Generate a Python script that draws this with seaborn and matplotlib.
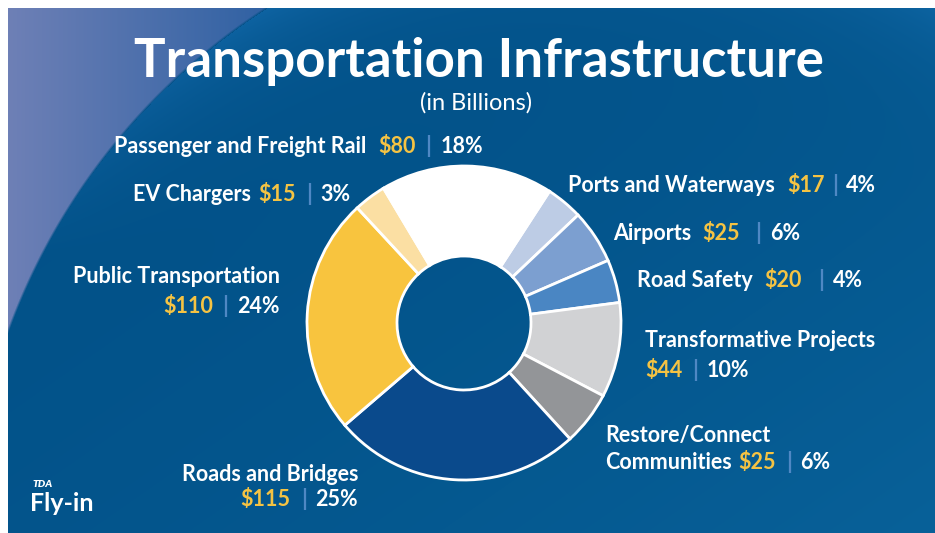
import numpy as np
import matplotlib
matplotlib.use("Agg")
import matplotlib.pyplot as plt
import seaborn as sns

# ---------------- data ----------------
categories = ["Ports and Waterways", "Airports", "Road Safety",
              "Transformative Projects", "Restore/Connect Communities",
              "Roads and Bridges", "Public Transportation", "EV Chargers",
              "Passenger and Freight Rail"]
amounts = [17, 25, 20, 44, 25, 115, 110, 15, 80]
amount_labels = ["$17", "$25", "$20", "$44", "$25", "$115", "$110", "$15", "$80"]
percent_labels = ["4%", "6%", "4%", "10%", "6%", "25%", "24%", "3%", "18%"]
slice_colors = ["#BDCCE5", "#7C9FD0", "#4A86C3", "#D1D2D4", "#939598",
                "#0A4A8C", "#F8C43E", "#FBDFA3", "#FFFFFF"]

title = "Transportation Infrastructure"
subtitle = "(in Billions)"

W, H = 935, 533
sns.set_theme(style="white")
plt.rcParams["font.family"] = ["Lato", "DejaVu Sans"]

fig = plt.figure(figsize=(W / 100, H / 100), dpi=100)

# ---------------- background (slide) ----------------
bg = fig.add_axes([0, 0, 1, 1])
bg.set_axis_off()
yy, xx = np.mgrid[0:H, 0:W].astype(float)
base0 = np.array([2, 81, 136], float)
base1 = np.array([8, 97, 153], float)
t = np.clip(xx / W * 0.55 + yy / H * 0.45, 0, 1) ** 2
img = base0 + (base1 - base0) * t[..., None]
d = np.sqrt((xx - 615) ** 2 + (yy - 551) ** 2)
R = 645
glow = np.exp(-np.clip(R - d, 0, None) / 55.0) * np.clip(1 - yy / 260, 0, 1) * (d < R)
img = img + glow[..., None] * np.array([12, 18, 26], float)
s = np.clip((xx - 8) / 270, 0, 1)
left_c = np.array([110, 128, 182], float)
right_c = np.array([45, 96, 162], float)
outer = left_c + (right_c - left_c) * s[..., None]
a = np.clip((d - R) / 2.5, 0, 1)[..., None]
img = img * (1 - a) + outer * a
img[:8, :] = 255
img[:, :8] = 255
bg.imshow(np.clip(img, 0, 255).astype(np.uint8), extent=(0, W, H, 0),
          aspect="auto", interpolation="bilinear")
bg.set_xlim(0, W)
bg.set_ylim(H, 0)

# ---------------- donut ----------------
cx, cy, r_out, r_in = 464, 323, 157, 67
half = 160
pax = fig.add_axes([(cx - half) / W, (H - cy - half) / H, 2 * half / W, 2 * half / H])
pax.pie(amounts, colors=slice_colors, startangle=57, counterclock=False, radius=1,
        wedgeprops=dict(width=1 - r_in / r_out, edgecolor="white", linewidth=2.0))
lim = half / r_out
pax.set_xlim(-lim, lim)
pax.set_ylim(-lim, lim)
pax.set_axis_off()

# ---------------- texts ----------------
renderer = fig.canvas.get_renderer()
WHITE = "#FFFFFF"
GOLD = "#F5C343"
SEP = "#4F88C4"
FS = 15.5


def px(x, y):
    return x / W, 1 - y / H


def run(x, y, parts, align="left"):
    objs, widths, total = [], [], 0.0
    for s_, c_, gap, kw in parts:
        tt = fig.text(0, 0, s_, color=c_, va="baseline", ha="left", **kw)
        w = tt.get_window_extent(renderer).width
        objs.append(tt)
        widths.append(w)
        total += gap + w
    cur = x - total if align == "right" else x
    for tt, (s_, c_, gap, kw), w in zip(objs, parts, widths):
        cur += gap
        tt.set_position(px(cur, y))
        cur += w


B = dict(fontsize=FS, fontweight="bold")
SP = dict(fontsize=FS + 1, fontweight="bold")


def label_parts(name, i, g1=8, g2=10, g3=9):
    parts = []
    if name:
        parts.append((name, WHITE, 0, B))
    parts += [(amount_labels[i], GOLD, g1 if name else 0, B),
              ("|", SEP, g2, SP),
              (percent_labels[i], WHITE, g3, B)]
    return parts


# title
fig.text(*px(479, 77), title, color=WHITE, fontsize=38, fontweight="bold",
         ha="center", va="baseline")
fig.text(*px(476, 110), subtitle, color=WHITE, fontsize=17, ha="center", va="baseline")

# right side labels
run(568, 192, label_parts(categories[0], 0, g1=12, g2=8, g3=8))
run(613, 240, label_parts(categories[1], 1, g1=11, g2=15, g3=9))
run(637, 287, label_parts(categories[2], 2, g1=12, g2=16, g3=9))
run(645, 347, [(categories[3], WHITE, 0, B)])
run(645, 377, label_parts(None, 3, g2=10, g3=8))
run(605, 442, [("Restore/Connect", WHITE, 0, B)])
run(605, 469, label_parts("Communities", 4, g1=7, g2=10, g3=8))

# left side labels
run(483, 153, label_parts(categories[8], 8, g1=12, g2=10, g3=9), align="right")
run(350, 201, label_parts(categories[7], 7, g1=7, g2=10, g3=8), align="right")
run(280, 283, [(categories[6], WHITE, 0, B)], align="right")
run(280, 313, label_parts(None, 6, g2=9, g3=9), align="right")
run(358, 481, [(categories[5], WHITE, 0, B)], align="right")
run(358, 506, label_parts(None, 5, g2=11, g3=8), align="right")

# logo
fig.text(*px(32, 487), "TDA", color=WHITE, fontsize=7.5, fontweight="heavy",
         fontstyle="italic", ha="left", va="baseline")
fig.text(*px(30, 511), "Fly-in", color=WHITE, fontsize=18, fontweight="bold",
         ha="left", va="baseline")

fig.savefig("out.png", dpi=100)
